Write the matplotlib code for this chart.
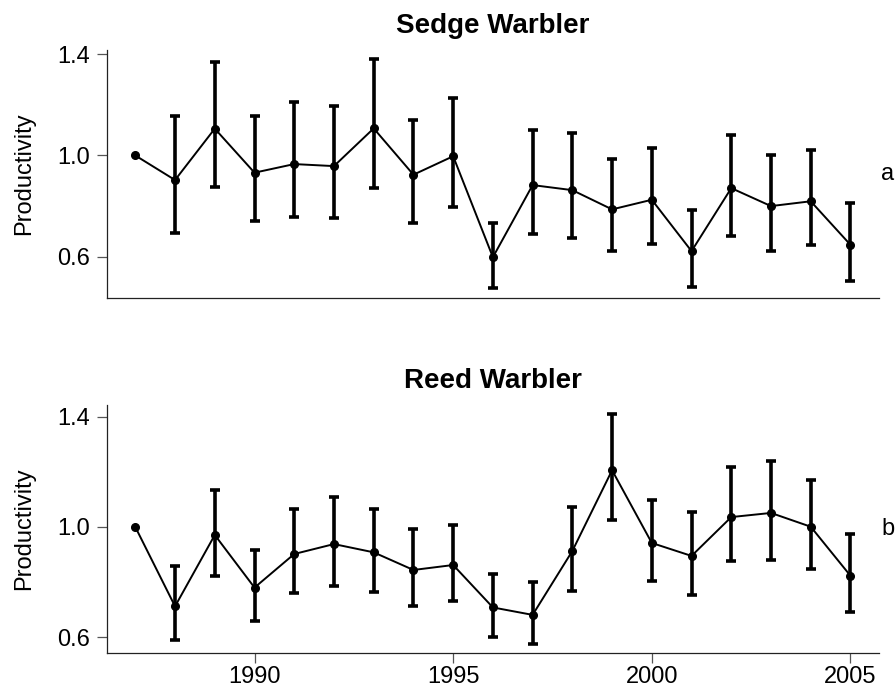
"""
Productivity index with confidence limits for Sedge and Reed Warbler, 1987-2005.
"""

import matplotlib
matplotlib.use('Agg')
import matplotlib.pyplot as plt
import numpy as np

plt.rcParams['font.family'] = ['Liberation Sans', 'DejaVu Sans']

years = np.arange(1987, 2006)

# Sedge Warbler: index, lower and upper limits (1987 is the reference year)
sedge = [1.00, 0.903, 1.106, 0.932, 0.966, 0.958, 1.107, 0.924, 0.997, 0.598,
         0.883, 0.863, 0.787, 0.825, 0.622, 0.871, 0.800, 0.819, 0.647]
sedge_lo = [np.nan, 0.693, 0.876, 0.740, 0.757, 0.754, 0.871, 0.732, 0.798, 0.475,
            0.690, 0.673, 0.624, 0.651, 0.481, 0.682, 0.622, 0.646, 0.505]
sedge_hi = [np.nan, 1.154, 1.371, 1.157, 1.213, 1.194, 1.382, 1.140, 1.226, 0.735,
            1.102, 1.087, 0.985, 1.029, 0.786, 1.080, 1.002, 1.021, 0.813]

# Reed Warbler
reed = [1.00, 0.712, 0.971, 0.780, 0.902, 0.938, 0.908, 0.844, 0.862, 0.708,
        0.681, 0.913, 1.206, 0.942, 0.895, 1.036, 1.051, 1.001, 0.823]
reed_lo = [np.nan, 0.589, 0.821, 0.660, 0.760, 0.785, 0.764, 0.714, 0.730, 0.599,
           0.575, 0.769, 1.025, 0.803, 0.753, 0.876, 0.882, 0.848, 0.692]
reed_hi = [np.nan, 0.857, 1.133, 0.915, 1.066, 1.109, 1.065, 0.993, 1.008, 0.831,
           0.801, 1.073, 1.410, 1.097, 1.056, 1.216, 1.239, 1.170, 0.973]

panels = [
    ('Sedge Warbler', 'a', sedge, sedge_lo, sedge_hi),
    ('Reed Warbler', 'b', reed, reed_lo, reed_hi),
]

y_ticks = [0.6, 1.0, 1.4]
x_ticks = [1990, 1995, 2000, 2005]

fig = plt.figure(figsize=(8.96, 6.9), dpi=100)
positions = [
    [0.1191, 0.5688, 0.862, 0.3593],
    [0.1191, 0.0532, 0.862, 0.3601],
]

for i, (title, letter, vals, lo, hi) in enumerate(panels):
    ax = fig.add_axes(positions[i])
    vals = np.array(vals)
    lo = np.array(lo)
    hi = np.array(hi)
    yerr = np.vstack([vals - lo, hi - vals])

    ax.errorbar(years, vals, yerr=yerr, fmt='none', ecolor='black',
                elinewidth=2.6, capsize=3.5, capthick=2.6, zorder=2)
    ax.plot(years, vals, color='black', linewidth=1.4, marker='o',
            markersize=5.5, zorder=3)

    # R-style 4% padding around data range
    ymin = np.nanmin(np.append(lo, vals))
    ymax = np.nanmax(np.append(hi, vals))
    pad = 0.04 * (ymax - ymin)
    ax.set_ylim(ymin - pad, ymax + pad)
    xpad = 0.04 * (years[-1] - years[0])
    ax.set_xlim(years[0] - xpad, years[-1] + xpad)

    ax.set_yticks(y_ticks)
    ax.set_yticklabels([f'{t:.1f}' for t in y_ticks])
    if i == 1:
        ax.set_xticks(x_ticks)
    else:
        ax.set_xticks([])

    for side in ['top', 'right']:
        ax.spines[side].set_visible(False)
    for side in ['left', 'bottom']:
        ax.spines[side].set_color('#222222')
        ax.spines[side].set_linewidth(0.9)
    ax.tick_params(axis='both', labelsize=17, length=7, width=0.9,
                   color='#555555')
    ax.tick_params(axis='y', pad=5)
    ax.tick_params(axis='x', pad=2.5)

    ax.set_ylabel('Productivity', fontsize=17, labelpad=16)
    ax.set_title(title, fontsize=20, fontweight='bold', pad=12)
    ax.text(1.003, 0.5, letter, transform=ax.transAxes, fontsize=17,
            ha='left', va='center')

fig.savefig('out.png', dpi=100)
